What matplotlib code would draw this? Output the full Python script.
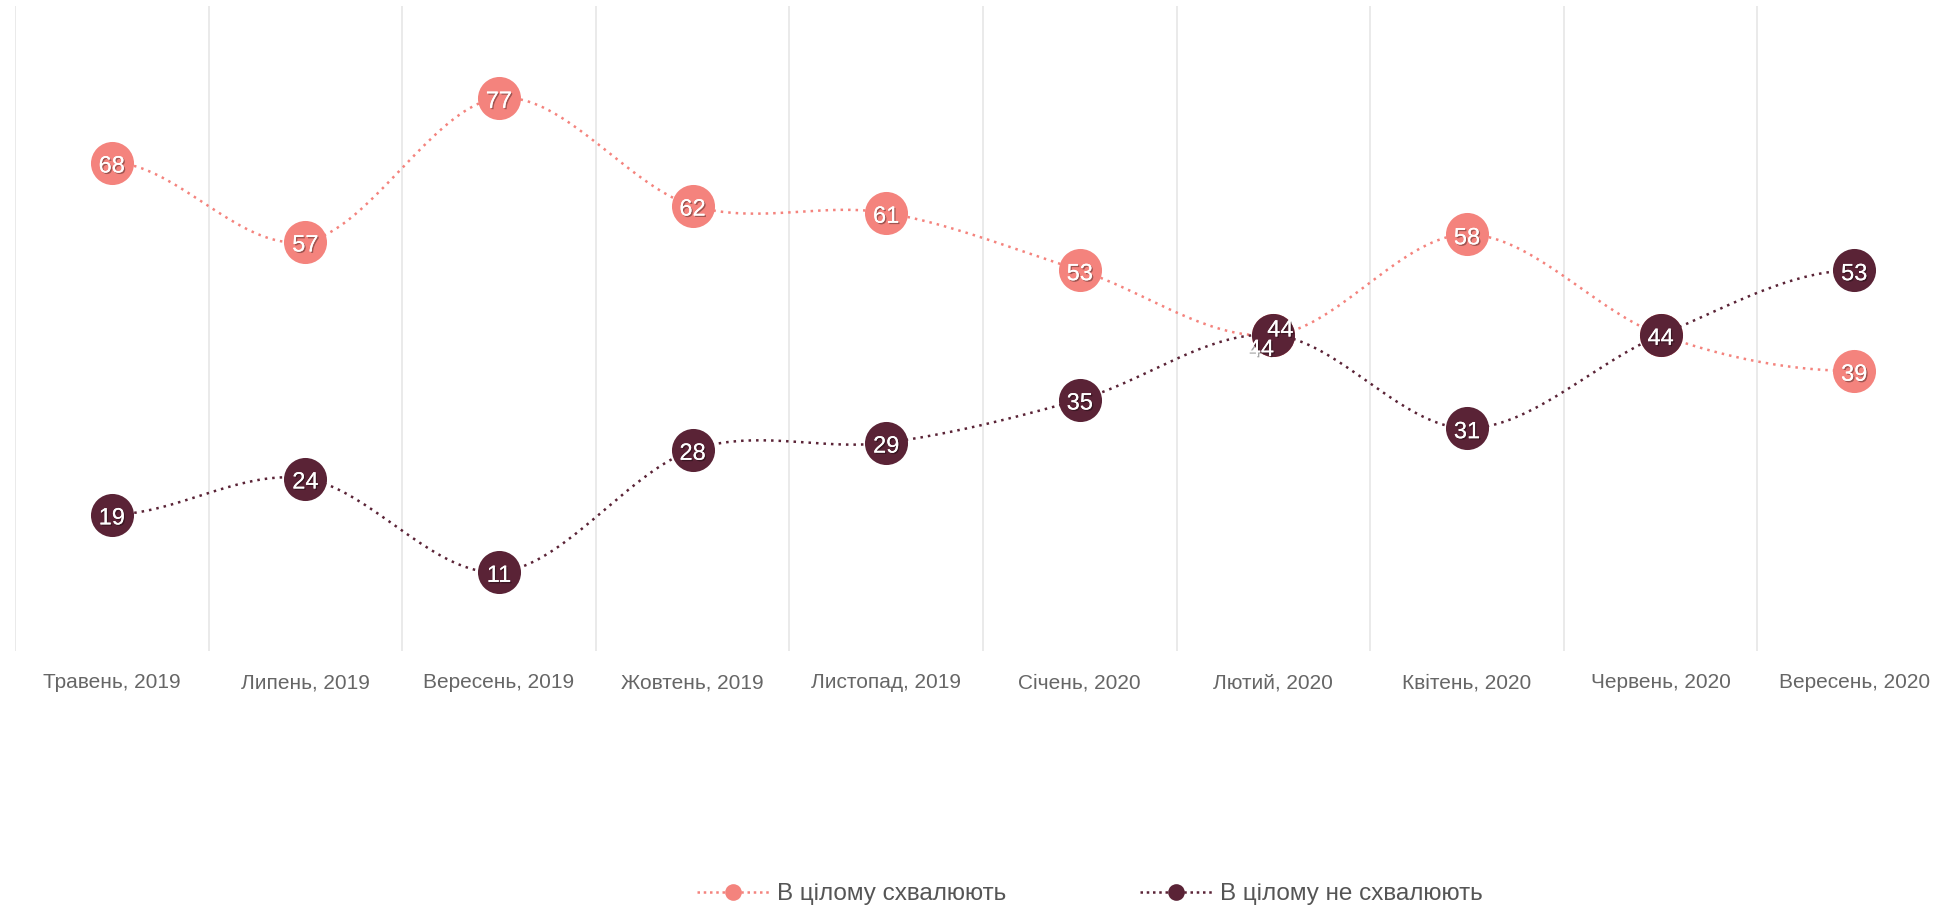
import numpy as np
import matplotlib
matplotlib.use("Agg")
import matplotlib.pyplot as plt
import matplotlib.patheffects as pe
from matplotlib.lines import Line2D

categories = ["Травень, 2019", "Липень, 2019", "Вересень, 2019", "Жовтень, 2019",
              "Листопад, 2019", "Січень, 2020", "Лютий, 2020", "Квітень, 2020",
              "Червень, 2020", "Вересень, 2020"]
approve = [68, 57, 77, 62, 61, 53, 44, 58, 44, 39]
disapprove = [19, 24, 11, 28, 29, 35, 44, 31, 44, 53]
series_names = ["В цілому схвалюють", "В цілому не схвалюють"]
colors = ["#F4837D", "#5A2336"]

plt.rcParams['font.family'] = ['Liberation Sans', 'DejaVu Sans']

W, H = 1946, 909
fig = plt.figure(figsize=(W / 100, H / 100), dpi=100)
ax = fig.add_axes([15 / W, 1 - 651 / H, 1936 / W, 645 / H])
ax.set_xlim(-0.5, 9.5)
ax.set_ylim(0, 89.8)
for s in ax.spines.values():
    s.set_visible(False)
ax.set_yticks([])
ax.set_xticks(range(len(categories)))
ax.set_xticklabels(categories, color="#666666", fontsize=15)
ax.tick_params(axis='x', length=0, pad=16)
for b in np.arange(-0.5, 10.0, 1.0):
    ax.axvline(b, color="#e6e6e6", lw=1.2, zorder=0)


def spline(xs, ys, n=40):
    xs = np.asarray(xs, float); ys = np.asarray(ys, float)
    m = np.zeros_like(ys)
    m[1:-1] = (ys[2:] - ys[:-2]) / (xs[2:] - xs[:-2])
    m[0] = 0; m[-1] = 0
    px, py = [], []
    for i in range(len(xs) - 1):
        t = np.linspace(0, 1, n)
        h = xs[i + 1] - xs[i]
        h00 = 2 * t**3 - 3 * t**2 + 1
        h10 = t**3 - 2 * t**2 + t
        h01 = -2 * t**3 + 3 * t**2
        h11 = t**3 - t**2
        px.extend(xs[i] + t * h)
        py.extend(h00 * ys[i] + h10 * h * m[i] + h01 * ys[i + 1] + h11 * h * m[i + 1])
    return np.array(px), np.array(py)


x = np.arange(len(categories))
shadow = [pe.withSimplePatchShadow(offset=(1, -1), shadow_rgbFace='black', alpha=0.35), pe.Normal()]
for k, (vals, col) in enumerate([(approve, colors[0]), (disapprove, colors[1])]):
    sx, sy = spline(x, vals)
    ax.plot(sx, sy, color=col, lw=1.8, ls=(0, (1, 2)), zorder=2 + k)
    ax.plot(x, vals, 'o', color=col, ms=31, mec='none', zorder=3 + k)
    for i, v in enumerate(vals):
        if k == 0 and i == 8:
            continue
        dx, dy = 0, -1
        if i == 6:
            dx, dy = (-9, -9) if k == 0 else (5, 5)
        ax.annotate(str(v), (x[i], v), xytext=(dx, dy), textcoords='offset points',
                    ha='center', va='center_baseline', color='white', fontsize=17,
                    zorder=5 + k, path_effects=shadow)

handles = [Line2D([0], [0], color=c, ls=(0, (1, 1.5)), lw=1.8, marker='o', ms=12, mec='none')
           for c in colors]
fig.legend(handles, series_names, loc='center', bbox_to_anchor=(0.56, 1 - 894 / H),
           ncol=2, frameon=False, fontsize=17.5, labelcolor="#555555",
           handlelength=3, handletextpad=0.3, columnspacing=5.5)

fig.savefig("out.png", dpi=100, facecolor='white')
